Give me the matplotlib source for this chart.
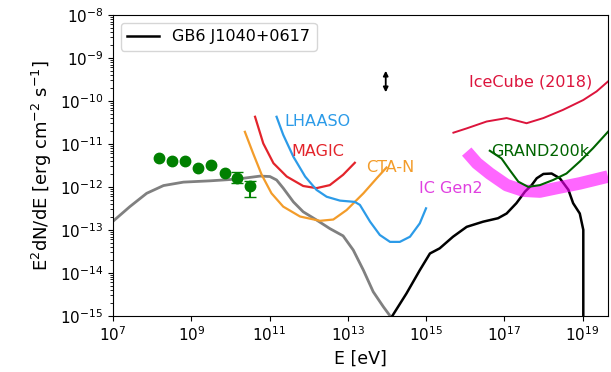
import numpy as np
import matplotlib
matplotlib.use("Agg")
import matplotlib.pyplot as plt

# log10(E/eV) and log10(E^2 dN/dE)
fermi_logE = [8.18, 8.51, 8.85, 9.18, 9.51, 9.85, 10.17, 10.51]
fermi_logF = [-11.34, -11.40, -11.41, -11.57, -11.50, -11.67, -11.79, -11.99]
fermi_err_lo = [0, 0, 0, 0, 0, 0, 0.12, 0.25]
fermi_err_hi = [0, 0, 0, 0, 0, 0, 0.13, 0.12]

gamma_logE = [7.0, 7.43, 7.86, 8.29, 8.80, 9.48, 10.16, 10.76, 11.01, 11.18,
              11.35, 11.61, 11.86, 12.20, 12.54, 12.88, 13.14, 13.40, 13.65,
              13.91, 14.08]
gamma_logF = [-12.80, -12.46, -12.15, -11.97, -11.89, -11.86, -11.82, -11.75,
              -11.76, -11.84, -12.03, -12.35, -12.58, -12.77, -12.97, -13.14,
              -13.47, -13.94, -14.44, -14.79, -15.0]

nu_logE = [14.14, 14.50, 14.84, 15.10, 15.35, 15.69, 16.04, 16.46, 16.84,
           17.06, 17.31, 17.53, 17.70, 17.83, 18.00, 18.21, 18.42, 18.64,
           18.76, 18.93, 19.02, 19.02]
nu_logF = [-15.0, -14.48, -13.94, -13.55, -13.43, -13.16, -12.93, -12.81,
           -12.73, -12.62, -12.38, -12.11, -11.96, -11.80, -11.70, -11.69,
           -11.80, -12.07, -12.38, -12.62, -13.0, -15.5]

cta_logE = [10.37, 10.58, 10.80, 11.05, 11.35, 11.78, 12.29, 12.63, 12.97,
            13.40, 13.74, 13.99]
cta_logF = [-10.72, -11.22, -11.72, -12.15, -12.46, -12.69, -12.79, -12.76,
            -12.54, -12.15, -11.80, -11.55]

magic_logE = [10.63, 10.84, 11.10, 11.44, 11.86, 12.20, 12.54, 12.88, 13.18]
magic_logF = [-10.37, -10.99, -11.45, -11.76, -11.98, -12.03, -11.96, -11.72,
              -11.44]

lhaaso_logE = [11.18, 11.35, 11.61, 11.91, 12.20, 12.46, 12.80, 13.18, 13.31,
               13.57, 13.82, 14.08, 14.33, 14.59, 14.84, 15.0]
lhaaso_logF = [-10.37, -10.79, -11.30, -11.76, -12.07, -12.23, -12.32, -12.35,
               -12.42, -12.81, -13.12, -13.28, -13.28, -13.16, -12.85, -12.50]

icecube_logE = [15.70, 16.04, 16.55, 17.06, 17.57, 18.0, 18.50, 19.02, 19.36,
                19.65]
icecube_logF = [-10.74, -10.64, -10.48, -10.40, -10.52, -10.40, -10.21, -9.98,
                -9.78, -9.55]

gen2_logE = [16.04, 16.30, 16.63, 17.06, 17.49, 17.91, 18.33, 18.93, 19.65]
gen2_logF = [-11.18, -11.45, -11.69, -11.96, -12.09, -12.11, -12.03, -11.92,
             -11.76]

grand_logE = [16.63, 16.93, 17.14, 17.36, 17.61, 17.91, 18.25, 18.59, 18.93,
              19.27, 19.65]
grand_logF = [-11.16, -11.34, -11.61, -11.88, -12.0, -11.96, -11.84, -11.69,
              -11.41, -11.10, -10.72]

arrow_logE = 13.97
arrow_logF = (-9.30, -9.80)

BLUE = "#2c9be8"
RED = "#e3242b"
ORANGE = "#f39c2a"


def p(a):
    return 10.0 ** np.asarray(a, dtype=float)


plt.rcParams["font.size"] = 11
fig = plt.figure(figsize=(6.11, 3.72), dpi=100)
ax = fig.add_axes([0.185, 0.151, 0.810, 0.809])

ax.plot(p(gamma_logE), p(gamma_logF), color="gray", lw=2)
ax.plot(p(nu_logE), p(nu_logF), color="black", lw=1.8, label="GB6 J1040+0617")
ax.plot(p(cta_logE), p(cta_logF), color=ORANGE, lw=1.6)
ax.plot(p(magic_logE), p(magic_logF), color=RED, lw=1.6)
ax.plot(p(lhaaso_logE), p(lhaaso_logF), color=BLUE, lw=1.6)
ax.plot(p(icecube_logE), p(icecube_logF), color="crimson", lw=1.4)
ax.plot(p(gen2_logE), p(gen2_logF), color="magenta", lw=9, alpha=0.6,
        solid_capstyle="butt")
ax.plot(p(grand_logE), p(grand_logF), color="darkgreen", lw=1.5)

# Fermi-like points; only the last two carry visible error bars
flux = p(fermi_logF)
lo = flux - p(np.array(fermi_logF) - np.array(fermi_err_lo))
hi = p(np.array(fermi_logF) + np.array(fermi_err_hi)) - flux
has_err = np.array(fermi_err_lo) > 0
ax.plot(p(fermi_logE)[~has_err], flux[~has_err], "o", color="green", ms=7.5)
ax.errorbar(p(fermi_logE)[has_err], flux[has_err],
            yerr=[lo[has_err], hi[has_err]], fmt="o", color="green",
            ms=7.5, capsize=4, lw=1.5)

ax.annotate("", xy=(10 ** arrow_logE, 10 ** arrow_logF[1]),
            xytext=(10 ** arrow_logE, 10 ** arrow_logF[0]),
            arrowprops=dict(arrowstyle="<|-|>", color="black", lw=1.3,
                            mutation_scale=7, shrinkA=0, shrinkB=0))

kw = dict(va="center", fontsize=11.5)
ax.text(10 ** 11.39, 10 ** -10.49, "LHAASO", color=BLUE, **kw)
ax.text(10 ** 11.55, 10 ** -11.17, "MAGIC", color=RED, **kw)
ax.text(10 ** 13.46, 10 ** -11.56, "CTA-N", color=ORANGE, **kw)
ax.text(10 ** 14.82, 10 ** -12.05, "IC Gen2", color="#e040e0", **kw)
ax.text(10 ** 16.10, 10 ** -9.56, "IceCube (2018)", color="crimson", **kw)
ax.text(10 ** 16.66, 10 ** -11.17, "GRAND200k", color="darkgreen", **kw)

ax.set_xscale("log")
ax.set_yscale("log")
ax.set_xlim(1e7, 10 ** 19.65)
ax.set_ylim(1e-15, 1e-8)
ax.set_xlabel("E [eV]", fontsize=12.5)
ax.set_ylabel("E$^2$dN/dE [erg cm$^{-2}$ s$^{-1}$]", fontsize=13)
ax.legend(loc="upper left", fontsize=11.5)

fig.savefig("out.png", dpi=100)
